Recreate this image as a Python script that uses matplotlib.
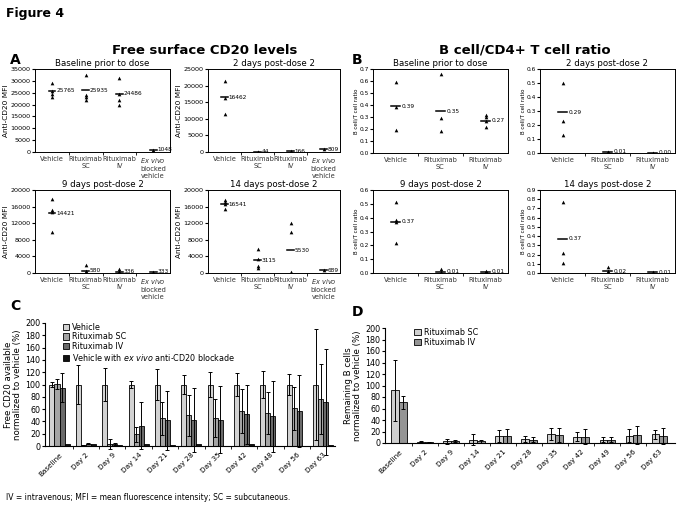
import numpy as np
import matplotlib
matplotlib.use("Agg")
import matplotlib.pyplot as plt

# ---- panel A: free surface CD20 (MFI) ----
a_groups = ["Vehicle", "Rituximab\nSC", "Rituximab\nIV", r"$\it{Ex\ vivo}$" + "\nblocked\nvehicle"]
a_titles = ["Baseline prior to dose", "2 days post-dose 2", "9 days post-dose 2", "14 days post-dose 2"]
a_base_pts = [[29000, 25600, 24500, 23300], [32500, 24200, 23200, 22000], [31000, 24500, 22000, 20000], [1050]]
a_base_means = [25765, 25935, 24486, 1048]
a_d2_pts = [[21500, 16300, 11500], [60, 30, 20], [250, 120, 100], [809]]
a_d2_means = [16462, 44, 166, 809]
a_d9_pts = [[17800, 15200, 14800, 10000], [2000, 400, 100], [900, 300, 150], [333]]
a_d9_means = [14421, 580, 336, 333]
a_d14_pts = [[17500, 17000, 16600, 15400], [5800, 3400, 1800, 1200], [12000, 9800, 250, 100], [689]]
a_d14_means = [16541, 3115, 5530, 689]

# ---- panel B: B cell / T cell ratio ----
b_groups = ["Vehicle", "Rituximab\nSC", "Rituximab\nIV"]
b_base_pts = [[0.59, 0.38, 0.19], [0.66, 0.29, 0.18], [0.32, 0.30, 0.27, 0.22]]
b_base_means = [0.39, 0.35, 0.27]
b_d2_pts = [[0.50, 0.23, 0.13], [0.01, 0.005, 0.0], [0.003, 0.0]]
b_d2_means = [0.29, 0.01, 0.00]
b_d9_pts = [[0.51, 0.38, 0.37, 0.22], [0.03, 0.01, 0.0], [0.012, 0.004]]
b_d9_means = [0.37, 0.01, 0.01]
b_d14_pts = [[0.77, 0.22, 0.11], [0.07, 0.02, 0.0], [0.012, 0.004]]
b_d14_means = [0.37, 0.02, 0.01]

# ---- panel C: free CD20 normalized to vehicle ----
c_days = ["Baseline", "Day 2", "Day 9", "Day 14", "Day 21", "Day 28", "Day 35", "Day 42", "Day 48", "Day 56", "Day 63"]
c_veh = [100, 100, 100, 100, 100, 100, 100, 100, 100, 100, 100]
c_veh_err = [4, 31, 27, 6, 25, 15, 21, 18, 22, 17, 91]
c_sc = [101, 1, 3, 19, 45, 50, 45, 57, 53, 61, 77]
c_sc_err = [8, 1, 8, 12, 27, 33, 31, 36, 34, 35, 57]
c_iv = [95, 4, 3, 33, 42, 43, 43, 52, 48, 57, 71]
c_iv_err = [23, 1, 2, 38, 48, 52, 55, 48, 58, 59, 86]
c_blk = [3, 4, 2, 3, 2, 4, 0.5, 3, 0.5, 0.5, 1]
c_labels = ["Vehicle", "Rituximab SC", "Rituximab IV", r"Vehicle with $\it{ex\ vivo}$ anti-CD20 blockade"]

# ---- panel D: remaining B cells ----
d_days = ["Baseline", "Day 2", "Day 9", "Day 14", "Day 21", "Day 28", "Day 35", "Day 42", "Day 49", "Day 56", "Day 63"]
d_sc = [92, 2, 3, 6, 12, 7, 16, 11, 6, 13, 15]
d_sc_err = [53, 1, 4, 10, 10, 5, 10, 8, 4, 11, 8]
d_iv = [71, 1, 3, 3, 12, 6, 14, 11, 6, 14, 12]
d_iv_err = [11, 1, 2, 3, 12, 4, 12, 13, 4, 16, 14]

W, H = 683, 514
fig = plt.figure(figsize=(W / 100, H / 100), dpi=100)


def rect(left, top, right, bottom):
    return [left / W, 1 - bottom / H, (right - left) / W, (bottom - top) / H]


def dot_panel(r, title, labels, pts, means, ymax, ystep, ylabel, fmt, fs_tick, fs_lab):
    ax = fig.add_axes(r)
    x = np.arange(1, len(labels) + 1)
    for xi, p, m in zip(x, pts, means):
        ax.scatter([xi] * len(p), p, marker='^', s=7, color='black', linewidths=0, zorder=3)
        ax.plot([xi - 0.1, xi + 0.1], [m, m], color='black', lw=1.1)
        ax.text(xi + 0.13, m, fmt.format(m), fontsize=4.2, va='center')
    ax.set_xlim(0.5, len(labels) + 0.5)
    ax.set_ylim(0, ymax)
    ax.set_yticks(np.arange(0, ymax + ystep / 2, ystep))
    ax.set_xticks(x)
    ax.set_xticklabels(labels, fontsize=4.8, color='#333333', va='top')
    ax.set_xticks(x[:-1] + 0.5, minor=True)
    ax.tick_params(axis='x', which='major', length=0, pad=3)
    ax.tick_params(axis='x', which='minor', length=2)
    ax.tick_params(axis='y', labelsize=fs_tick, length=2, pad=1)
    ax.set_title(title, fontsize=6.2, pad=2)
    ax.set_ylabel(ylabel, fontsize=fs_lab, labelpad=1)
    for s in ax.spines.values():
        s.set_linewidth(0.7)
    return ax


fig.text(6 / W, 1 - 14 / H, "Figure 4", fontsize=9, fontweight='bold', va='center')
fig.text(10 / W, 1 - 60 / H, "A", fontsize=10, fontweight='bold', va='center')
fig.text(352 / W, 1 - 60 / H, "B", fontsize=10, fontweight='bold', va='center')
fig.text(205 / W, 1 - 50 / H, "Free surface CD20 levels", fontsize=9.5, fontweight='bold', ha='center', va='center')
fig.text(525 / W, 1 - 50 / H, "B cell/CD4+ T cell ratio", fontsize=9.5, fontweight='bold', ha='center', va='center')

dot_panel(rect(35, 69, 170, 152), a_titles[0], a_groups, a_base_pts, a_base_means, 35000, 5000, "Anti-CD20 MFI", "{:.0f}", 4.6, 5.3)
dot_panel(rect(208, 69, 340, 152), a_titles[1], a_groups, a_d2_pts, a_d2_means, 25000, 5000, "Anti-CD20 MFI", "{:.0f}", 4.6, 5.3)
dot_panel(rect(35, 190, 170, 273), a_titles[2], a_groups, a_d9_pts, a_d9_means, 20000, 4000, "Anti-CD20 MFI", "{:.0f}", 4.6, 5.3)
dot_panel(rect(208, 190, 340, 273), a_titles[3], a_groups, a_d14_pts, a_d14_means, 20000, 4000, "Anti-CD20 MFI", "{:.0f}", 4.6, 5.3)

dot_panel(rect(373, 69, 508, 153), a_titles[0], b_groups, b_base_pts, b_base_means, 0.7, 0.1, "B cell/T cell ratio", "{:.2f}", 4.2, 4)
dot_panel(rect(540, 69, 675, 153), a_titles[1], b_groups, b_d2_pts, b_d2_means, 0.6, 0.1, "B cell/T cell ratio", "{:.2f}", 4.2, 4)
dot_panel(rect(373, 190, 508, 273), a_titles[2], b_groups, b_d9_pts, b_d9_means, 0.6, 0.1, "B cell/T cell ratio", "{:.2f}", 4.2, 4)
dot_panel(rect(540, 190, 675, 273), a_titles[3], b_groups, b_d14_pts, b_d14_means, 0.9, 0.1, "B cell/T cell ratio", "{:.2f}", 4.2, 4)


def bar_panel(r, days, series, errs, colors, labels, width, ylabel, xlim, leg_x):
    ax = fig.add_axes(r)
    x = np.arange(len(days))
    n = len(series)
    for i, (vals, col, lab) in enumerate(zip(series, colors, labels)):
        xs = x + (i - (n - 1) / 2) * width
        ax.bar(xs, vals, width, color=col, edgecolor='black', linewidth=0.6, label=lab, zorder=2)
        if errs[i] is not None:
            ax.errorbar(xs, vals, yerr=errs[i], fmt='none', ecolor='black', elinewidth=0.7,
                        capsize=1.3, capthick=0.7, zorder=3, clip_on=False)
    ax.set_xlim(*xlim)
    ax.set_ylim(0, 200)
    ax.set_yticks(np.arange(0, 201, 20))
    ax.set_xticks(x)
    ax.set_xticklabels(days, rotation=45, ha='right', rotation_mode='anchor', fontsize=5.2)
    ax.set_xticks(x[:-1] + 0.5, minor=True)
    ax.tick_params(axis='x', which='major', length=0, pad=4)
    ax.tick_params(axis='x', which='minor', length=2.5)
    ax.tick_params(axis='y', labelsize=5.8, length=2.5, pad=1)
    ax.spines['top'].set_visible(False)
    ax.spines['right'].set_visible(False)
    ax.set_ylabel(ylabel, fontsize=6.2, labelpad=2, linespacing=1.0)
    ax.legend(loc='upper left', bbox_to_anchor=(leg_x, 1.03), fontsize=5.8, frameon=False,
              handlelength=0.8, handleheight=0.8, handletextpad=0.4, labelspacing=0.1, borderaxespad=0)
    return ax


fig.text(10 / W, 1 - 306 / H, "C", fontsize=10, fontweight='bold', va='center')
fig.text(352 / W, 1 - 312 / H, "D", fontsize=10, fontweight='bold', va='center')

bar_panel(rect(45, 323, 335, 446), c_days, [c_veh, c_sc, c_iv, c_blk], [c_veh_err, c_sc_err, c_iv_err, None],
          ['#d2d2d2', '#a4a4a4', '#6a6a6a', '#111111'], c_labels, 0.19,
          "Free CD20 available\nnormalized to vehicle (%)", (-0.55, 10.45), 0.05)
bar_panel(rect(385, 328, 675, 443), d_days, [d_sc, d_iv], [d_sc_err, d_iv_err],
          ['#cfcfcf', '#949494'], ["Rituximab SC", "Rituximab IV"], 0.3,
          "Remaining B cells\nnormalized to vehicle (%)", (-0.54, 10.6), 0.09)

fig.text(6 / W, 1 - 497 / H, "IV = intravenous; MFI = mean fluorescence intensity; SC = subcutaneous.",
         fontsize=5.5, va='center')

fig.savefig("out.png", dpi=100)
